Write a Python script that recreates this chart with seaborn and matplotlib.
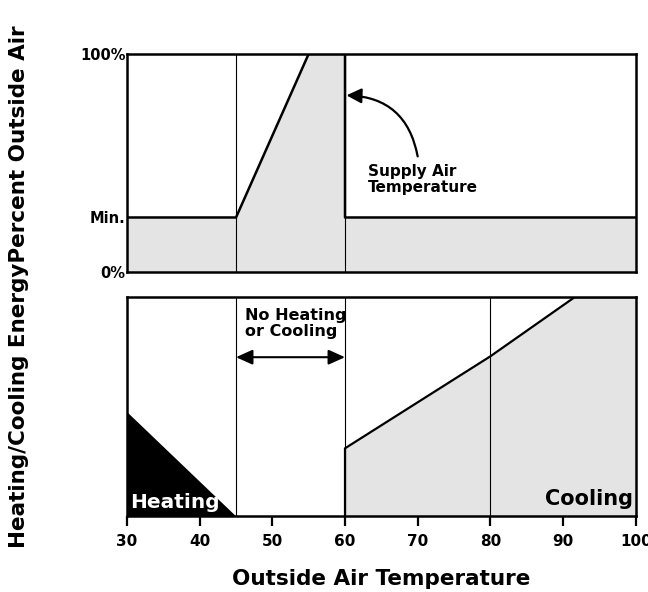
import numpy as np
import pandas as pd
import matplotlib
matplotlib.use('Agg')
import matplotlib.pyplot as plt
import seaborn as sns

sns.set_style('white')
plt.rcParams['font.family'] = ['DejaVu Sans']
plt.rcParams['font.weight'] = 'bold'
plt.rcParams['text.color'] = 'black'
plt.rcParams['axes.labelcolor'] = 'black'
plt.rcParams['xtick.color'] = 'black'
plt.rcParams['ytick.color'] = 'black'

# top panel: percent outside air vs outside air temperature
oa_temp = [30, 45, 55, 60, 60, 100]
oa_pct = [25, 25, 100, 100, 25, 25]

# bottom panel: heating / cooling energy (fraction of panel height)
heat_temp = [30, 45]
heat_energy = [0.476, 0.0]
cool_temp = [60, 60, 70, 80, 91.6, 100]
cool_energy = [0.0, 0.31, 0.52, 0.73, 1.0, 1.0]

x_ticks = [30, 40, 50, 60, 70, 80, 90, 100]
y_ticks_top = [0, 25, 100]
y_ticklabels_top = ['0%', 'Min.', '100%']

grey = '#e4e4e4'

fig = plt.figure(figsize=(6.48, 5.92), dpi=100)
ax1 = fig.add_axes([0.196, 0.5405, 0.785, 0.3685])
ax2 = fig.add_axes([0.196, 0.128, 0.785, 0.370])

# ---- top panel
top = pd.DataFrame({'temp': oa_temp, 'pct': oa_pct})
ax1.fill_between(top['temp'], top['pct'], 0, color=grey, linewidth=0)
for v in [45, 60]:
    ax1.axvline(v, color='black', linewidth=0.8)
sns.lineplot(data=top, x='temp', y='pct', sort=False, estimator=None,
             color='black', linewidth=1.8, ax=ax1)
ax1.set_xlim(30, 100)
ax1.set_ylim(0, 100)
ax1.set_xticks([])
ax1.set_yticks(y_ticks_top)
ax1.set_yticklabels(y_ticklabels_top, fontsize=10.5, fontweight='bold')
ax1.tick_params(axis='y', length=0, pad=1)
ax1.set_xlabel('')
ax1.set_ylabel('')

ax1.text(63.2, 49.5, 'Supply Air\nTemperature', fontsize=11, fontweight='bold',
         ha='left', va='top', linespacing=1.1)
ax1.annotate('', xy=(60.2, 81), xytext=(70, 53),
             arrowprops=dict(arrowstyle='-|>,head_length=0.9,head_width=0.45',
                             color='black', linewidth=1.6,
                             connectionstyle='arc3,rad=0.4',
                             shrinkA=0, shrinkB=0))

# ---- bottom panel
heat = pd.DataFrame({'temp': heat_temp, 'energy': heat_energy})
cool = pd.DataFrame({'temp': cool_temp, 'energy': cool_energy})
ax2.fill_between(heat['temp'], heat['energy'], 0, color='black', linewidth=0)
ax2.fill_between(cool['temp'], cool['energy'], 0, color=grey, linewidth=0)
for v in [45, 60, 80]:
    ax2.axvline(v, color='black', linewidth=0.8)
sns.lineplot(data=cool, x='temp', y='energy', sort=False, estimator=None,
             color='black', linewidth=1.6, ax=ax2)
ax2.set_xlim(30, 100)
ax2.set_ylim(0, 1)
ax2.set_yticks([])
ax2.set_xticks(x_ticks)
ax2.set_xticklabels([str(t) for t in x_ticks], fontsize=11, fontweight='bold')
ax2.tick_params(axis='x', direction='out', length=7, width=1.6, pad=6,
                bottom=True)
ax2.set_xlabel('Outside Air Temperature', fontsize=15.5, fontweight='bold',
               labelpad=14)
ax2.set_ylabel('')

ax2.text(46.2, 0.95, 'No Heating\nor Cooling', fontsize=11.5, fontweight='bold',
         ha='left', va='top', linespacing=1.05)
ax2.annotate('', xy=(45, 0.726), xytext=(60, 0.726),
             arrowprops=dict(arrowstyle='<|-|>,head_length=1.0,head_width=0.45',
                             color='black', linewidth=1.5,
                             shrinkA=0, shrinkB=0))
ax2.text(30.4, 0.037, 'Heating', color='white', fontsize=14.5, fontweight='bold',
         ha='left', va='baseline')
ax2.text(99.6, 0.05, 'Cooling', color='black', fontsize=15, fontweight='bold',
         ha='right', va='baseline')

for ax in (ax1, ax2):
    for s in ax.spines.values():
        s.set_linewidth(1.8)
        s.set_color('black')

fig.text(0.03, 0.515, 'Heating/Cooling EnergyPercent Outside Air', rotation=90,
         fontsize=15.5, fontweight='bold', ha='center', va='center')

plt.savefig('out.png', dpi=100)
